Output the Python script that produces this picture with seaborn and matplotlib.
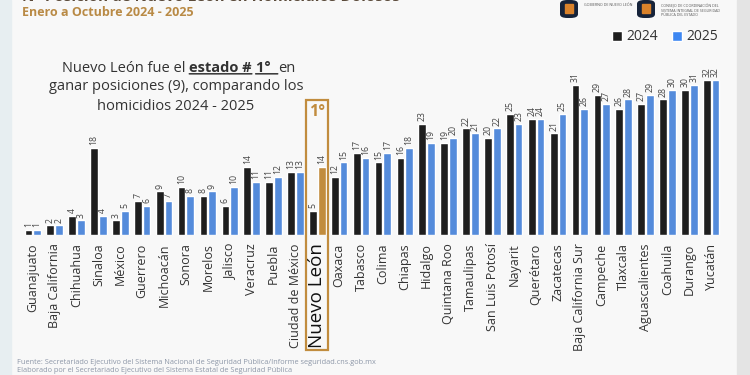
import numpy as np
import pandas as pd
import seaborn as sns
import matplotlib.pyplot as plt
from matplotlib.patches import Rectangle, Patch, FancyBboxPatch
from matplotlib.transforms import blended_transform_factory

# ---------- datos (posición por estado, 2024 vs 2025) ----------
estados = ["Guanajuato", "Baja California", "Chihuahua", "Sinaloa", "México",
           "Guerrero", "Michoacán", "Sonora", "Morelos", "Jalisco", "Veracruz",
           "Puebla", "Ciudad de México", "Nuevo León", "Oaxaca", "Tabasco",
           "Colima", "Chiapas", "Hidalgo", "Quintana Roo", "Tamaulipas",
           "San Luis Potosí", "Nayarit", "Querétaro", "Zacatecas",
           "Baja California Sur", "Campeche", "Tlaxcala", "Aguascalientes",
           "Coahuila", "Durango", "Yucatán"]
pos_2024 = [1, 2, 4, 18, 3, 7, 9, 10, 8, 6, 14, 11, 13, 5, 12, 17,
            15, 16, 23, 19, 22, 20, 25, 24, 21, 31, 29, 26, 27, 28, 30, 32]
pos_2025 = [1, 2, 3, 4, 5, 6, 7, 8, 9, 10, 11, 12, 13, 14, 15, 16,
            17, 18, 19, 20, 21, 22, 23, 24, 25, 26, 27, 28, 29, 30, 31, 32]
años = ["2024", "2025"]
destacado = "Nuevo León"

NEGRO = "#1e1e1e"
AZUL = "#3d87f2"
ORO = "#c18c3e"
TEXTO = "#333333"

df = pd.DataFrame({"estado": estados, "2024": pos_2024, "2025": pos_2025})
largo = df.melt(id_vars="estado", value_vars=años, var_name="año", value_name="pos")

sns.set_style("white")
plt.rcParams["font.family"] = ["Open Sans", "DejaVu Sans"]

fig = plt.figure(figsize=(7.5, 3.75), dpi=100, facecolor="#f8f8f8")
# franjas laterales del fondo
fig.patches.append(Rectangle((0, 0), 11/750, 1, transform=fig.transFigure,
                             color="#e7eef1", zorder=0))
fig.patches.append(Rectangle((737/750, 0), 13/750, 1, transform=fig.transFigure,
                             color="#e4e4e4", zorder=0))

ax = fig.add_axes([21.8/750, 1 - 235/375, 700.4/750, 193.75/375])
ax.set_facecolor("none")

sns.barplot(data=largo, x="estado", y="pos", hue="año", order=estados,
            hue_order=años, palette={"2024": NEGRO, "2025": AZUL},
            width=0.8, gap=0.12, errorbar=None, legend=False, ax=ax)

idx = estados.index(destacado)
ax.containers[1][idx].set_facecolor(ORO)

for cont in ax.containers:
    ax.bar_label(cont, rotation=90, padding=2, fontsize=6.3, color="#444444")

ax.set_xlim(-0.5, len(estados) - 0.5)
ax.set_ylim(0, 40)
ax.set_yticks([])
ax.set_xlabel("")
ax.set_ylabel("")
sns.despine(ax=ax, left=True, bottom=True)
ax.tick_params(axis="x", length=0, pad=6)
ax.set_xticks(range(len(estados)))
ax.set_xticklabels(estados, rotation=90, fontsize=9, color=TEXTO)
lbl = ax.get_xticklabels()[idx]
lbl.set_fontsize(13.5)
lbl.set_color("#111111")

# recuadro dorado de Nuevo León
tr = blended_transform_factory(ax.transData, fig.transFigure)
ax.add_patch(Rectangle((idx - 0.5, 1 - 350/375), 1.0, 250/375, transform=tr,
                       fill=False, edgecolor=ORO, lw=1.6, clip_on=False))
ax.text(idx, 1 - 112/375, "1°", transform=tr, ha="center", va="center",
        fontsize=11.5, fontweight="bold", color=ORO)

# títulos (el primero queda cortado en el borde, como en la imagen)
fig.text(22/750, 1 + 3/375, "N° Posición de Nuevo León en Homicidios Dolosos",
         ha="left", va="center", fontsize=11, fontweight="bold", color="#5a4a3a")
fig.text(22/750, 1 - 13/375, "Enero a Octubre 2024 - 2025", ha="left",
         va="center", fontsize=9, fontweight="bold", color="#b98a45")

# texto explicativo
fs = 10.5
t1 = fig.text(62/750, 1 - 68/375, "Nuevo León fue el ", ha="left", va="center",
              fontsize=fs, color=TEXTO)
t2 = ax.annotate("estado #", xy=(1, 0), xycoords=t1, ha="left", va="bottom",
                 fontsize=fs, fontweight="bold", color=TEXTO)
t3 = ax.annotate(" ", xy=(1, 0), xycoords=t2, ha="left", va="bottom",
                 fontsize=fs, color=TEXTO)
t4 = ax.annotate("1°  ", xy=(1, 0), xycoords=t3, ha="left", va="bottom",
                 fontsize=fs, fontweight="bold", color=TEXTO)
ax.annotate("en", xy=(1, 0), xycoords=t4, ha="left", va="bottom",
            fontsize=fs, color=TEXTO)
for t in (t2, t4):
    ax.annotate("", xy=(0, 0.12), xycoords=t, xytext=(1, 0.12), textcoords=t,
                arrowprops=dict(arrowstyle="-", color=TEXTO, lw=1.1,
                                shrinkA=0, shrinkB=0))
fig.text(176/750, 1 - 87/375, "ganar posiciones (9), comparando los",
         ha="center", va="center", fontsize=fs, color=TEXTO)
fig.text(176/750, 1 - 106/375, "homicidios 2024 - 2025",
         ha="center", va="center", fontsize=fs, color=TEXTO)

# leyenda
manejadores = [Patch(facecolor=NEGRO, label="2024"), Patch(facecolor=AZUL, label="2025")]
fig.legend(handles=manejadores, loc="center right", bbox_to_anchor=(731/750, 1 - 37/375),
           ncol=2, frameon=False, fontsize=10, handlelength=0.7, handleheight=0.7,
           handletextpad=0.35, columnspacing=1.0, labelcolor=TEXTO)

# logotipos (simplificados)
for x0 in (560, 637):
    fig.patches.append(FancyBboxPatch((x0/750, 1 - 18/375), 18/750, 18/375,
                                      boxstyle="round,pad=0,rounding_size=0.01",
                                      transform=fig.transFigure,
                                      facecolor="#16233a", edgecolor="none"))
    fig.patches.append(Rectangle(((x0 + 5)/750, 1 - 13/375), 8/750, 9/375,
                                 transform=fig.transFigure, color="#d9822b"))
fig.text(584/750, 1 - 5/375, "GOBIERNO DE NUEVO LEÓN", fontsize=2.6,
         color="#555555", va="center")
fig.text(661/750, 1 - 4/375, "CONSEJO DE COORDINACIÓN DEL\nSISTEMA INTEGRAL DE SEGURIDAD\nPÚBLICA DEL ESTADO",
         fontsize=2.6, color="#555555", va="top", linespacing=1.1)

# fuente
fig.text(17/750, 1 - 363/375,
         "Fuente: Secretariado Ejecutivo del Sistema Nacional de Seguridad Pública/Informe seguridad.cns.gob.mx",
         ha="left", va="center", fontsize=5.3, color="#8d97a8")
fig.text(17/750, 1 - 371/375,
         "Elaborado por el Secretariado Ejecutivo del Sistema Estatal de Seguridad Pública",
         ha="left", va="center", fontsize=5.3, color="#8d97a8")

fig.savefig("out.png", dpi=100, facecolor=fig.get_facecolor())
